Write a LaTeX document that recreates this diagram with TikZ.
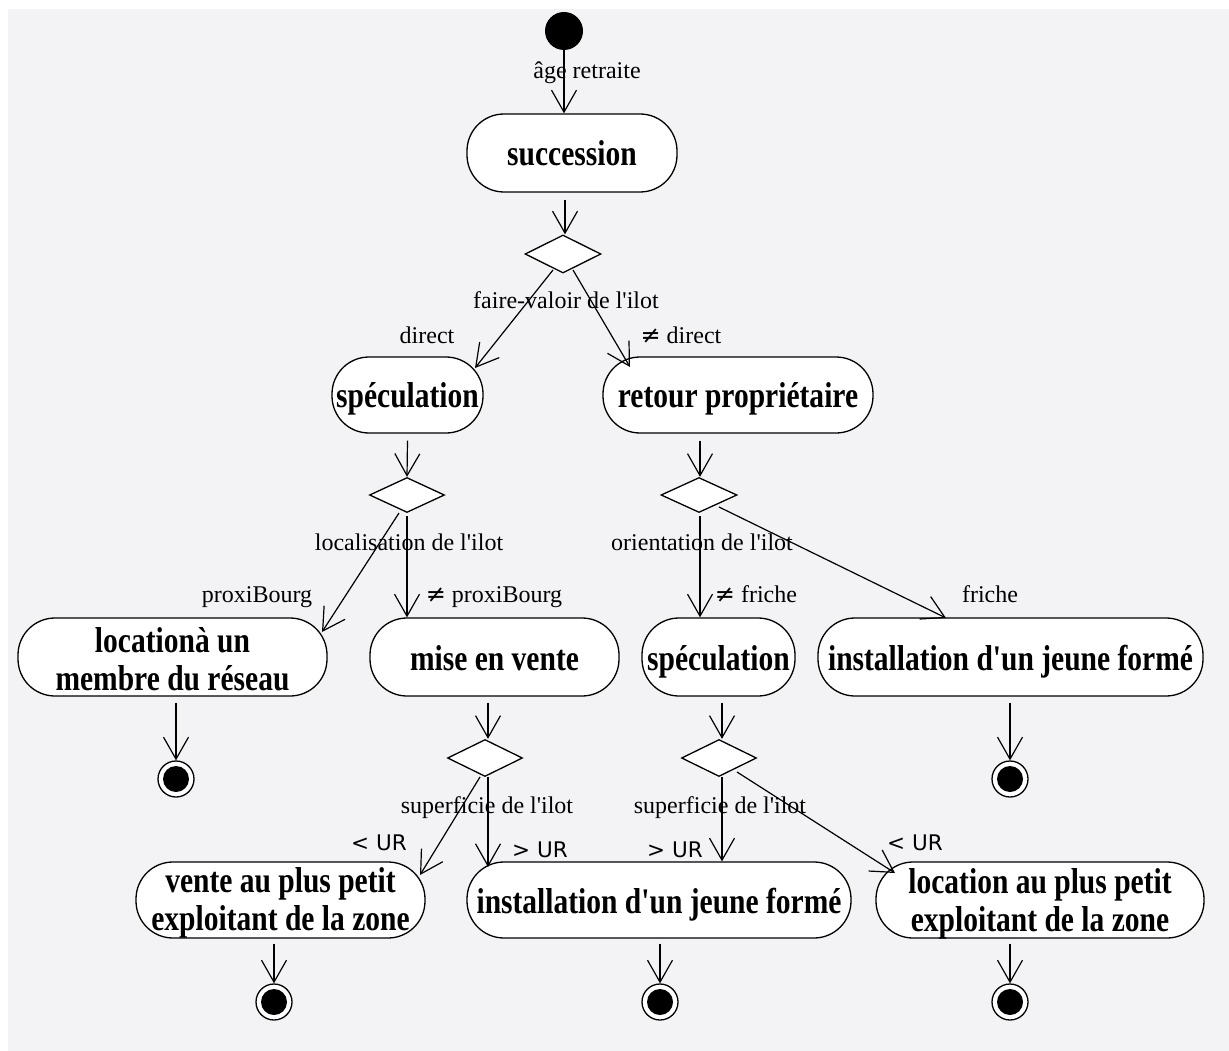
\documentclass[tikz,border=0pt]{standalone}
\usepackage{fontspec}
\setmainfont{Liberation Serif}[Ligatures=TeXOff]
\newfontfamily\symfont{DejaVu Sans}
\usetikzlibrary{arrows.meta,shapes.geometric}

\definecolor{panel}{RGB}{243,243,246}

% bold, slightly condensed activity text; lines stacked with the first baseline as reference
\newcommand\acttext[1]{\scalebox{0.82}[1]{\begin{tabular}[t]{@{}c@{}}#1\end{tabular}}}
\newcommand\notsym{{\symfont ≠}}

\tikzset{
  act/.style={draw=black, fill=white, line width=1.3pt, rounded corners=37pt,
              inner sep=0pt, minimum width=#1},
  acttxt/.style={anchor=base, inner sep=0pt,
                 font=\fontsize{36}{38}\selectfont\bfseries},
  decision/.style={diamond, draw=black, fill=white, line width=1.3pt, inner sep=0pt,
                   minimum width=76pt, minimum height=36pt},
  initial/.style={circle, fill=black, inner sep=0pt, minimum size=38pt},
  final/.style={circle, draw=black, fill=white, line width=1.3pt, inner sep=0pt,
                minimum size=36pt,
                path picture={\fill[black] (path picture bounding box.center) circle (13pt);}},
  flow/.style={line width=1.2pt,
               -{Straight Barb[length=22pt,width=25pt,line width=1.2pt]}},
  guard/.style={anchor=base, inner sep=0pt, font=\fontsize{24}{28}\selectfont},
  urguard/.style={anchor=base, inner sep=0pt, font=\symfont\fontsize{21.5}{24}\selectfont},
}

\begin{document}
\begin{tikzpicture}[x=1pt, y=-1pt]
  \useasboundingbox (0,0) rectangle (1229,1051);
  \fill[white] (0,0) rectangle (1229,1051);
  \fill[panel] (8,9) rectangle (1229,1051);

  % ---- states ----
  \node[initial] (init) at (564,31) {};

  \node[act=210, minimum height=78pt] (succ) at (572,153) {};
  \node[decision, minimum height=38pt] (d1) at (563,254) {};

  \node[act=151, minimum height=76pt] (spec1) at (407.5,395) {};
  \node[act=270, minimum height=76pt] (retour) at (738,395) {};

  \node[decision, minimum width=75pt, minimum height=35pt] (d2) at (407,495) {};
  \node[decision, minimum height=35pt] (d3) at (699,495) {};

  \node[act=309, minimum height=78pt] (loc1) at (172.5,657) {};
  \node[act=249, minimum height=78pt] (mise) at (494.5,657) {};
  \node[act=153, minimum height=78pt] (spec2) at (718.5,657) {};
  \node[act=385, minimum height=78pt] (inst1) at (1010.5,657) {};

  \node[final] (fin1) at (176,779) {};
  \node[final] (fin2) at (1010,779) {};

  \node[decision, minimum width=75pt, minimum height=37pt] (d4) at (485,758) {};
  \node[decision, minimum width=75pt, minimum height=37pt] (d5) at (719,758) {};

  \node[act=289, minimum height=76pt] (vente) at (280.5,900) {};
  \node[act=384, minimum height=76pt] (inst2) at (659,900) {};
  \node[act=328, minimum height=76pt] (loc2) at (1040,900) {};

  \node[final] (fin3) at (274,1002) {};
  \node[final] (fin4) at (660,1002) {};
  \node[final] (fin5) at (1010,1002) {};

  % ---- activity texts ----
  \node[acttxt] (succ-t)   at (572,166)    {\acttext{succession}};
  \node[acttxt] (spec1-t)  at (407.5,407)  {\acttext{spéculation}};
  \node[acttxt] (retour-t) at (738,407)    {\acttext{retour propriétaire}};
  \node[acttxt] (loc1-t)   at (172.5,652)  {\acttext{locationà un\\membre du réseau}};
  \node[acttxt] (mise-t)   at (494.5,670)  {\acttext{mise en vente}};
  \node[acttxt] (spec2-t)  at (718.5,670)  {\acttext{spéculation}};
  \node[acttxt] (inst1-t)  at (1010.5,670) {\acttext{installation d'un jeune formé}};
  \node[acttxt] (vente-t)  at (280.5,892)  {\acttext{vente au plus petit\\exploitant de la zone}};
  \node[acttxt] (inst2-t)  at (659,913)    {\acttext{installation d'un jeune formé}};
  \node[acttxt] (loc2-t)   at (1040,893)   {\acttext{location au plus petit\\exploitant de la zone}};

  % ---- transitions ----
  \draw[flow] (init.south) -- ([shift={(-8,0)}]succ.north);
  \draw[flow] ([shift={(-7,7)}]succ.south) -- ([shift={(2,0)}]d1.north);
  \draw[flow] ([shift={(-10,16)}]d1.center) -- ([shift={(67.5,-27)}]spec1.center);
  \draw[flow] ([shift={(10,16)}]d1.center) -- ([shift={(-108,-28)}]retour.center);

  \draw[flow] ([shift={(0,7)}]spec1.south) -- (d2.north);
  \draw[flow] ([shift={(-38,7)}]retour.south) -- ([shift={(1,0)}]d3.north);

  \draw[flow] ([shift={(-8,18)}]d2.center) -- ([shift={(149.5,-25)}]loc1.center);
  \draw[flow] ([shift={(0,3)}]d2.south) -- ([shift={(-87.5,0)}]mise.north);
  \draw[flow] ([shift={(1,3)}]d3.south) -- ([shift={(-18.5,0)}]spec2.north);
  \draw[flow] ([shift={(20,12)}]d3.center) -- ([shift={(-64.5,-39)}]inst1.center);

  \draw[flow] ([shift={(3.5,6)}]loc1.south) -- (fin1.north);
  \draw[flow] ([shift={(-0.5,6)}]inst1.south) -- (fin2.north);
  \draw[flow] ([shift={(-6.5,6)}]mise.south) -- ([shift={(3,0)}]d4.north);
  \draw[flow] ([shift={(3.5,6)}]spec2.south) -- ([shift={(3,0)}]d5.north);

  \draw[flow] ([shift={(-5,19)}]d4.center) -- ([shift={(139.5,-25)}]vente.center);
  \draw[flow] ([shift={(3,19)}]d4.center) -- ([shift={(-171,-33)}]inst2.center);
  \draw[flow] ([shift={(3,19)}]d5.center) -- ([shift={(63,0)}]inst2.north);
  \draw[flow] ([shift={(18,14)}]d5.center) -- ([shift={(-145,-27)}]loc2.center);

  \draw[flow] ([shift={(-6.5,5)}]vente.south) -- (fin3.north);
  \draw[flow] ([shift={(1,5)}]inst2.south) -- (fin4.north);
  \draw[flow] ([shift={(-30,5)}]loc2.south) -- (fin5.north);

  % ---- guards ----
  \node[guard] (g0) at (587,79)  {âge retraite};
  \node[guard] (g1) at (566,308) {faire-valoir de l'ilot};
  \node[guard] (g1a) at (427,343) {direct};
  \node[guard] (g1b) at (681,343) {\notsym\ direct};
  \node[guard] (g2) at (409,550) {localisation de l'ilot};
  \node[guard] (g2a) at (257,602) {proxiBourg};
  \node[guard] (g2b) at (494,602) {\notsym\ proxiBourg};
  \node[guard] (g3) at (702,550) {orientation de l'ilot};
  \node[guard] (g3a) at (756,602) {\notsym\ friche};
  \node[guard] (g3b) at (990,602) {friche};
  \node[guard] (g4) at (487,813) {superficie de l'ilot};
  \node[urguard] (g4a) at (379,850) {< UR};
  \node[urguard] (g4b) at (540,857) {> UR};
  \node[guard] (g5) at (720,813) {superficie de l'ilot};
  \node[urguard] (g5a) at (675,857) {> UR};
  \node[urguard] (g5b) at (915,850) {< UR};
\end{tikzpicture}
\end{document}
